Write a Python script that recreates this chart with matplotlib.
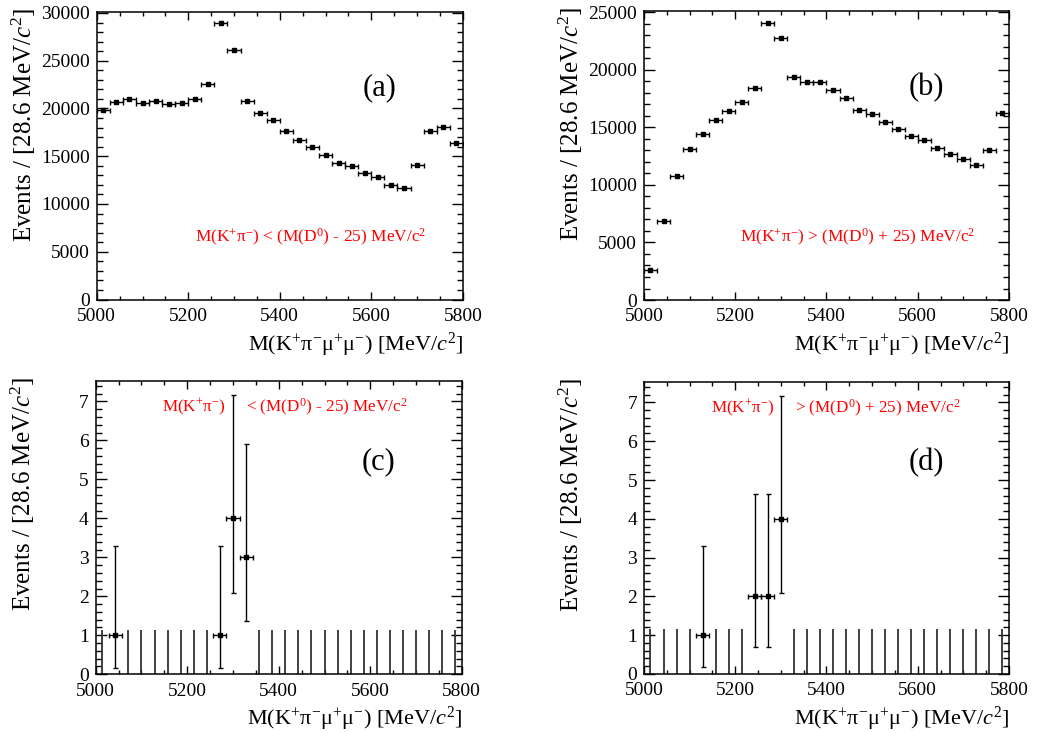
import matplotlib
matplotlib.use("Agg")
import matplotlib.pyplot as plt
from matplotlib.ticker import MultipleLocator
from matplotlib.transforms import ScaledTranslation
import numpy as np

plt.rcParams["font.family"] = ["Liberation Serif", "DejaVu Serif"]
plt.rcParams["mathtext.fontset"] = "custom"
plt.rcParams["mathtext.rm"] = "Liberation Serif"
plt.rcParams["mathtext.it"] = "Liberation Serif:italic"

# binning: 28 bins of 28.6 MeV between 5000 and 5800
edges = np.linspace(5000, 5800, 29)

# panel (a): M(K pi) below the D0 window
counts_a = [19790, 20690, 20970, 20620, 20800, 20420, 20620, 20970, 22570, 29000,
            26150, 20800, 19550, 18750, 17600, 16740, 15940, 15170, 14340, 14030,
            13260, 12780, 11940, 11700, 14130, 17600, 18020, 16390]
# panel (b): M(K pi) above the D0 window
counts_b = [2650, 6860, 10780, 13110, 14440, 15650, 16400, 17200, 18440, 24090,
            22770, 19420, 18960, 18930, 18240, 17550, 16540, 16140, 15450, 14900,
            14290, 13920, 13230, 12710, 12220, 11760, 13050, 16280]
# panels (c) and (d): signal-region candidates
counts_c = [0, 1, 0, 0, 0, 0, 0, 0, 0, 1, 4, 3, 0, 0,
            0, 0, 0, 0, 0, 0, 0, 0, 0, 0, 0, 0, 0, 0]
counts_d = [0, 0, 0, 0, 1, 0, 0, 0, 2, 2, 4, 0, 0, 0,
            0, 0, 0, 0, 0, 0, 0, 0, 0, 0, 0, 0, 0, 0]
# asymmetric Poisson error bars (down, up) as drawn for each count
poisson_err = {0: (0.0, 1.148), 1: (0.827, 2.300), 2: (1.292, 2.638),
               3: (1.633, 2.918), 4: (1.914, 3.162)}

ylab = r"Events / [28.6 MeV/$\mathit{c}^{2}$]"
xlab = r"M(K$^{+}$π$^{-}$μ$^{+}$μ$^{-}$) [MeV/$\mathit{c}^{2}$]"
cut_lo = r"M(K$^{+}$π$^{-}$) < (M(D$^{0}$) - 25) MeV/c$^{2}$"
cut_hi = r"M(K$^{+}$π$^{-}$) > (M(D$^{0}$) + 25) MeV/c$^{2}$"

fig = plt.figure(figsize=(10.37, 7.33), dpi=100)

centers = 0.5 * (edges[1:] + edges[:-1])
halfw = 0.5 * (edges[1] - edges[0])


def style_axes(ax, ymax, ymajor, yminor):
    ax.set_xlim(5000, 5800)
    ax.set_ylim(0, ymax)
    ax.xaxis.set_major_locator(MultipleLocator(200))
    ax.xaxis.set_minor_locator(MultipleLocator(50))
    ax.yaxis.set_major_locator(MultipleLocator(ymajor))
    ax.yaxis.set_minor_locator(MultipleLocator(yminor))
    ax.tick_params(axis="both", which="both", direction="in", top=True, right=True,
                   labelsize=14, width=1.0)
    ax.tick_params(axis="y", which="major", length=8, pad=5)
    ax.tick_params(axis="y", which="minor", length=4)
    ax.tick_params(axis="x", which="major", length=6, pad=6)
    ax.tick_params(axis="x", which="minor", length=3)
    for s in ax.spines.values():
        s.set_linewidth(1.1)
    # ROOT lifts the "0" label a little above the x axis
    zero_lab = ax.yaxis.get_major_ticks()[0].label1
    zero_lab.set_transform(zero_lab.get_transform()
                           + ScaledTranslation(0, 4 / 72, fig.dpi_scale_trans))
    ax.set_xlabel(xlab, fontsize=16, ha="right", x=1.0, labelpad=4)
    ax.text(-0.2, 1.015, ylab, transform=ax.transAxes, rotation=90,
            ha="center", va="top", fontsize=18)


def draw_large(ax, counts, tag, cut):
    ax.errorbar(centers, counts, xerr=halfw, fmt="s", color="black", markersize=3,
                elinewidth=1.0, capsize=1.8, capthick=1.0)
    ax.text(0.773, 0.735, tag, transform=ax.transAxes, fontsize=22,
            ha="center", va="center")
    ax.text(0.585, 0.215, cut, transform=ax.transAxes, fontsize=12.5,
            color="red", ha="center", va="center")


def draw_small(ax, counts, tag, cut_left, cut_right, xl, xr):
    counts = np.array(counts)
    zero = counts == 0
    lo = np.array([poisson_err[c][0] for c in counts])
    hi = np.array([poisson_err[c][1] for c in counts])
    ax.vlines(centers[zero], 0, hi[zero], color="#333333", linewidth=1.3)
    nz = ~zero
    ax.errorbar(centers[nz], counts[nz], xerr=halfw, yerr=[lo[nz], hi[nz]],
                fmt="s", color="black", markersize=2.5, elinewidth=1.0,
                capsize=1.8, capthick=1.0)
    ax.text(0.773, 0.724, tag, transform=ax.transAxes, fontsize=22,
            ha="center", va="center")
    ax.text(xl, 0.91, cut_left, transform=ax.transAxes, fontsize=12.3,
            color="red", ha="center", va="center")
    ax.text(xr, 0.91, cut_right, transform=ax.transAxes, fontsize=12.3,
            color="red", ha="left", va="center")


ax_a = fig.add_axes([0.0933, 0.5914, 0.353, 0.3922])
style_axes(ax_a, 30100, 5000, 1000)
draw_large(ax_a, counts_a, "(a)", cut_lo)

ax_b = fig.add_axes([0.621, 0.5907, 0.352, 0.394])
style_axes(ax_b, 25100, 5000, 1000)
draw_large(ax_b, counts_b, "(b)", cut_hi)

ax_c = fig.add_axes([0.0923, 0.0801, 0.353, 0.400])
style_axes(ax_c, 7.52, 1, 0.2)
draw_small(ax_c, counts_c, "(c)", r"M(K$^{+}$π$^{-}$)",
           r"< (M(D$^{0}$) - 25) MeV/c$^{2}$", 0.268, 0.41)

ax_d = fig.add_axes([0.621, 0.0805, 0.352, 0.398])
style_axes(ax_d, 7.52, 1, 0.2)
draw_small(ax_d, counts_d, "(d)", r"M(K$^{+}$π$^{-}$)",
           r"> (M(D$^{0}$) + 25) MeV/c$^{2}$", 0.272, 0.415)

fig.savefig("out.png", dpi=100)
